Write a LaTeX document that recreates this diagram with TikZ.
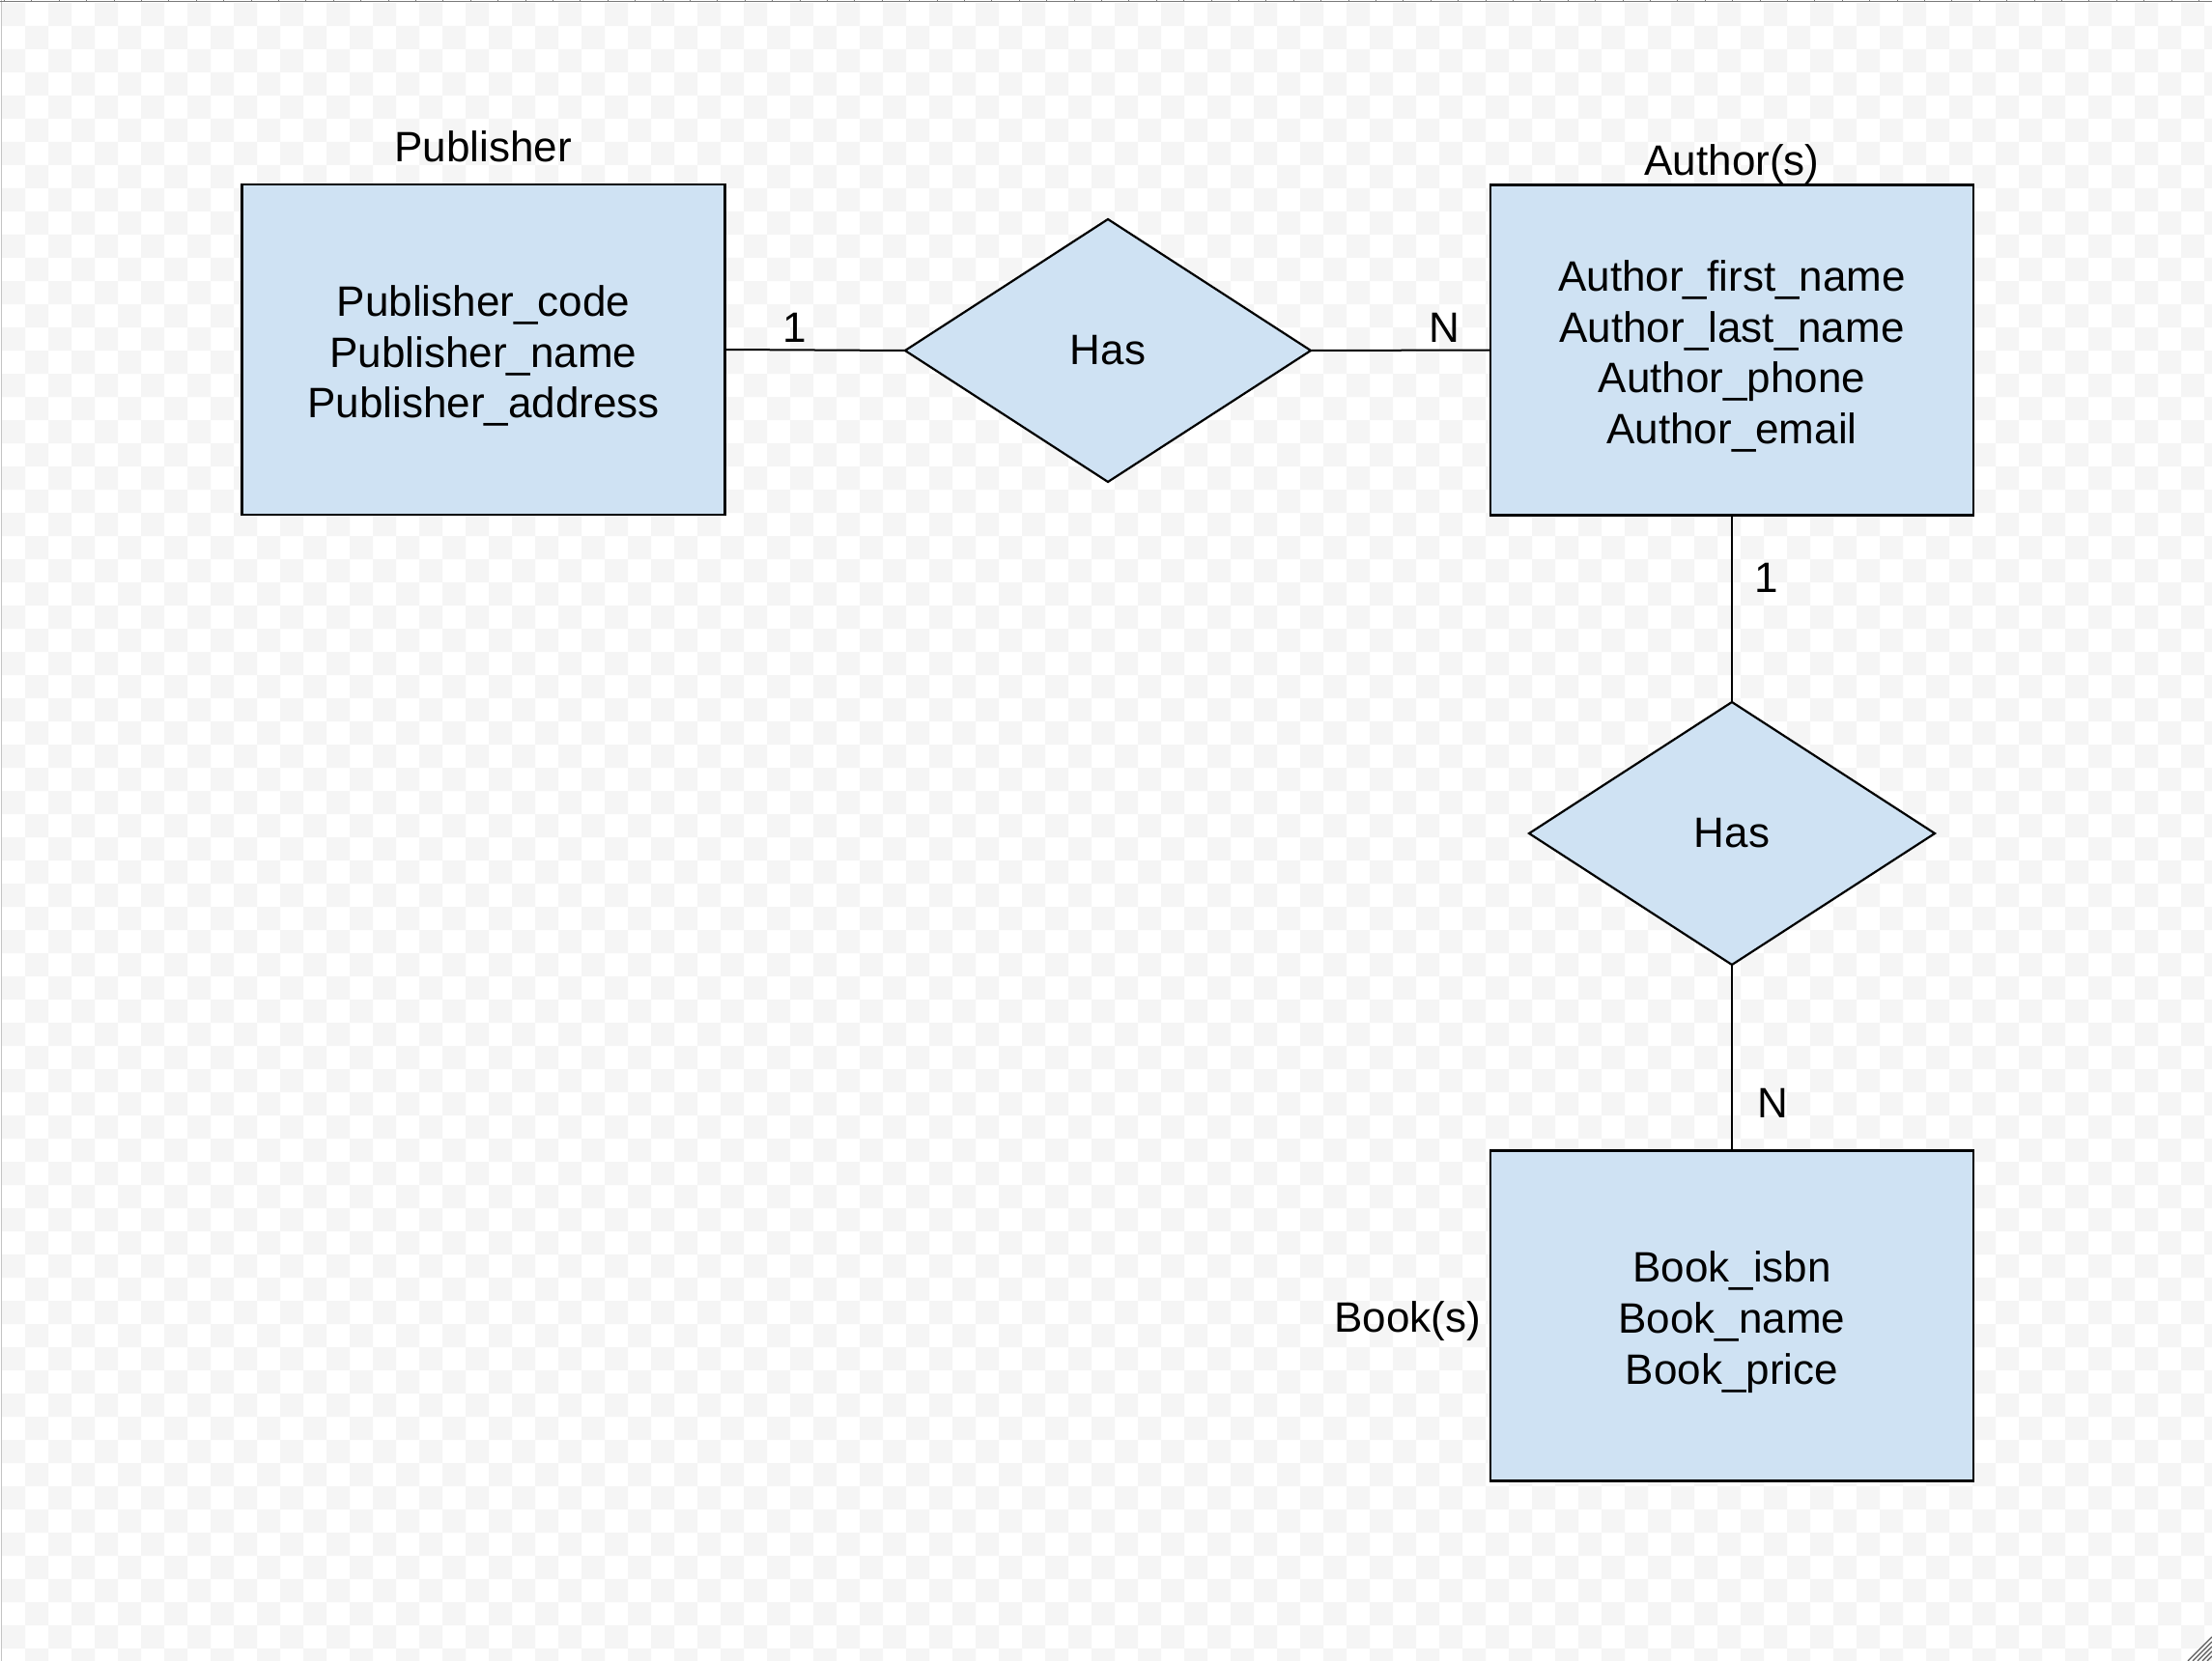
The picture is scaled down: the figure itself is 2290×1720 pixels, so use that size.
\documentclass[tikz,border=0pt]{standalone}
\usepackage{fontspec}
\setmainfont{Liberation Sans}
\usetikzlibrary{shapes.geometric}
\definecolor{erfill}{HTML}{CFE2F3}
\definecolor{tile}{HTML}{F5F5F5}
\definecolor{edgegray}{HTML}{C4C4C4}
\definecolor{rulergray}{HTML}{7A7A7A}
\newcommand\erfont{\fontsize{44}{52.8}\selectfont}
\newcommand\ertext[1]{\raisebox{-7.5pt}[\height][\depth]{\begin{tabular}{@{}c@{}}#1\end{tabular}}}
\tikzset{
  entity/.style={rectangle, draw=black, fill=erfill, line width=2.2pt,
    minimum width=500pt, minimum height=342pt, inner sep=0pt, outer sep=0pt,
    font=\erfont},
  rel/.style={diamond, draw=black, fill=erfill, line width=2.2pt,
    minimum width=420pt, minimum height=272pt, aspect=1.544,
    inner sep=0pt, outer sep=0pt, font=\erfont},
  conn/.style={draw=black, line width=2pt},
  lbl/.style={anchor=base, inner sep=0pt, outer sep=0pt, font=\erfont},
}
\begin{document}
\begin{tikzpicture}[x=1pt,y=-1pt]
\useasboundingbox (0,0) rectangle (2290,1720);
% canvas background
\begin{scope}
  \clip (0,0) rectangle (2290,1720);
  \fill[white] (0,0) rectangle (2290,1720);
  \fill[tile] \foreach \j [evaluate=\j as \off using {int(mod(\j,2))}] in {0,...,71} {
      \foreach \k in {0,...,47} { ({2+24*(2*\k+\off)},{3+24*\j}) rectangle ++(24,24) } };
  \draw[edgegray, line width=1.2pt] (1.3,0) -- (1.3,1720);
  \draw[rulergray, line width=1pt] (0,1.8) -- (2290,1.8);
  \draw[rulergray, line width=0.8pt] \foreach \t in {0,...,80} { ({4.3+28.4*\t},0) -- ++(0,1.8) };
  \draw[gray!70!black, line width=1.3pt] \foreach \d in {5,10,15,20,25} { (2290-\d,1720) -- (2290,1720-\d) };
\end{scope}

% entities and relationships
\node[entity] (pub)  at (500.5,362) {\ertext{Publisher\_code\\Publisher\_name\\Publisher\_address}};
\node[rel]    (has1) at (1147,363) {Has};
\node[entity] (auth) at (1793,362.5) {\ertext{Author\_first\_name\\Author\_last\_name\\Author\_phone\\Author\_email}};
\node[rel]    (has2) at (1793,863) {Has};
\node[entity] (book) at (1793,1362.5) {\ertext{Book\_isbn\\Book\_name\\Book\_price}};

% connectors
\draw[conn] (pub.east) -- (has1.west);
\draw[conn] (has1.east) -- (auth.west);
\draw[conn] (auth.south) -- (has2.north);
\draw[conn] (has2.south) -- (book.north);

% labels
\node[lbl] (pubname)  at (500,168)   {Publisher};
\node[lbl] (authname) at (1793,182)  {Author(s)};
\node[lbl] (bookname) at (1457,1379) {Book(s)};
\node[lbl] (c1) at (823,354)   {1};
\node[lbl] (c2) at (1495,354)  {N};
\node[lbl] (c3) at (1829,613)  {1};
\node[lbl] (c4) at (1835,1157) {N};
\end{tikzpicture}
\end{document}
